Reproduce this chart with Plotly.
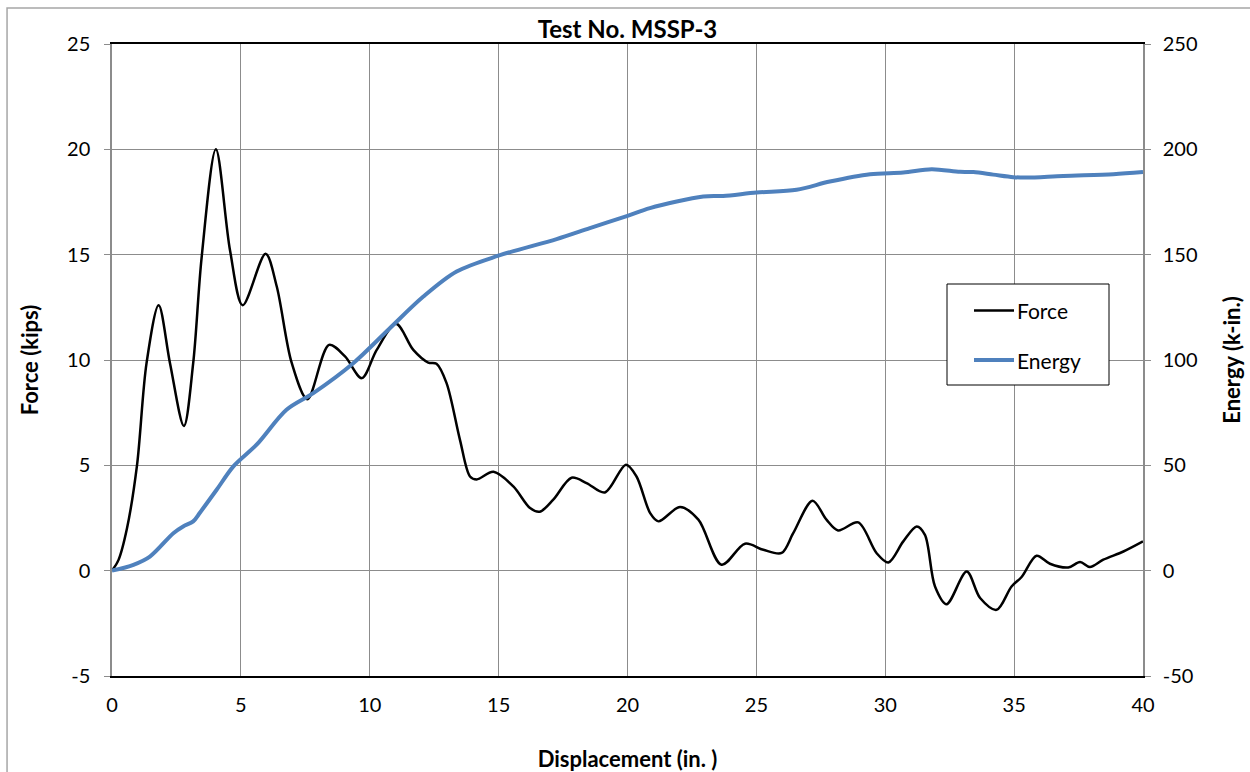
import plotly.graph_objects as go

# Displacement (in.) vs. force (kips) samples
force_disp = [0, 0.25, 0.58, 0.97, 1.34, 1.81, 2.25, 2.79, 3.15, 3.48, 4.03, 4.58, 5.07, 5.96, 6.39,
              6.97, 7.58, 8.42, 9.04, 9.69, 10.27, 11.02, 11.69, 12.27, 12.59, 12.98, 13.5,
              13.89, 14.15, 14.8, 15.57, 16.22, 16.6, 17.12, 17.83, 18.41, 19.12, 19.94, 20.35,
              20.88, 21.2, 22.04, 22.75, 23.65, 24.56, 25.27, 25.98, 26.43, 27.18, 27.72, 28.17,
              28.95, 29.66, 30.12, 30.7, 31.22, 31.54, 31.93, 32.38, 33.16, 33.68, 34.32, 34.9,
              35.29, 35.87, 36.39, 37.1, 37.56, 37.94, 38.46, 39.24, 40.0]
force_kips = [0, 0.5, 2.0, 5.0, 9.85, 12.6, 9.85, 6.87, 9.85, 14.9, 20.0, 15.2, 12.6, 15.04, 13.5,
              9.87, 8.14, 10.72, 10.17, 9.14, 10.48, 11.72, 10.48, 9.88, 9.82, 8.9, 6.21,
              4.47, 4.33, 4.69, 4.0, 2.97, 2.8, 3.37, 4.41, 4.16, 3.71, 5.03, 4.47,
              2.73, 2.34, 3.02, 2.42, 0.28, 1.28, 0.99, 0.84, 1.78, 3.32, 2.42, 1.91,
              2.29, 0.84, 0.39, 1.39, 2.1, 1.7, -0.75, -1.59, -0.04, -1.3, -1.86, -0.75,
              -0.3, 0.71, 0.33, 0.15, 0.41, 0.17, 0.52, 0.91, 1.39]

# Displacement (in.) vs. absorbed energy (k-in.) samples
energy_disp = [0, 0.83, 1.47, 2.38, 2.76, 3.15, 3.41, 4.06, 4.71, 5.61, 6.77, 7.81, 9.36, 10.78,
               12.08, 13.37, 14.99, 17.25, 18.54, 20.0, 20.87, 22.94, 23.71, 25.01, 26.56,
               27.85, 29.41, 30.7, 31.8, 32.9, 33.42, 34.19, 34.97, 35.49, 36.91, 38.85, 40.0]
energy_kin = [0, 2.8, 6.7, 17.8, 21.0, 23.4, 27.5, 38.4, 49.5, 59.8, 76.4, 84.3, 98.5, 115.1,
              130.1, 142.0, 149.5, 157.4, 162.6, 168.4, 172.1, 177.6, 177.9, 179.5, 180.8,
              184.7, 188.2, 189.0, 190.6, 189.3, 189.2, 188.0, 186.8, 186.6, 187.4, 188.2, 189.2]

x_ticks = [0, 5, 10, 15, 20, 25, 30, 35, 40]
force_ticks = [-5, 0, 5, 10, 15, 20, 25]
energy_ticks = [-50, 0, 50, 100, 150, 200, 250]
series_names = ["Force", "Energy"]
series_colors = ["black", "#4f81bd"]
series_widths = [2.5, 4]

FONT = "Lato"
GRID = "#8c8c8c"

fig = go.Figure()
fig.add_trace(go.Scatter(
    x=force_disp, y=force_kips, name=series_names[0], mode="lines",
    line=dict(color=series_colors[0], width=series_widths[0], shape="spline", smoothing=0.9),
    yaxis="y", showlegend=False))
fig.add_trace(go.Scatter(
    x=energy_disp, y=energy_kin, name=series_names[1], mode="lines",
    line=dict(color=series_colors[1], width=series_widths[1], shape="spline", smoothing=0.9),
    yaxis="y2", showlegend=False))


def tick_text(vals):
    # plain hyphen for negatives
    return [str(v) for v in vals]


fig.update_layout(
    width=1250, height=772,
    margin=dict(l=112, r=107, t=44, b=96),
    paper_bgcolor="white", plot_bgcolor="white",
    font=dict(family=FONT, size=20, color="black"),
    title=dict(text="<b>Test No. MSSP-3</b>", x=0.5, xref="paper", xanchor="center",
               y=0.9617, yref="container", yanchor="middle",
               font=dict(family=FONT, size=24, color="black")),
    xaxis=dict(range=[0, 40], tickvals=x_ticks, ticktext=tick_text(x_ticks),
               showgrid=True, gridcolor=GRID, gridwidth=1, automargin=False,
               showline=True, linecolor="black", linewidth=1.5, mirror=True,
               ticks="", zeroline=False, tickfont=dict(size=20), ticklabelstandoff=10,
               title=dict(text="<b>Displacement (in. )</b>", font=dict(size=22), standoff=38)),
    yaxis=dict(range=[-5, 25], tickvals=force_ticks, ticktext=tick_text(force_ticks),
               showgrid=True, gridcolor=GRID, gridwidth=1, automargin=False,
               showline=True, linecolor=GRID, linewidth=1.5, ticks="outside", ticklen=6,
               tickcolor=GRID, zeroline=False, tickfont=dict(size=20), ticklabelstandoff=10,
               title=dict(text="<b>Force (kips)</b>", font=dict(size=22), standoff=22)),
    yaxis2=dict(range=[-50, 250], tickvals=energy_ticks, ticktext=tick_text(energy_ticks),
                overlaying="y", side="right", automargin=False,
                showgrid=False, showline=True, linecolor=GRID, linewidth=1.5,
                ticks="outside", ticklen=6, tickcolor=GRID, zeroline=False,
                tickfont=dict(size=20), ticklabelstandoff=8,
                title=dict(text="<b>Energy (k-in.)</b>", font=dict(size=22), standoff=28)),
    showlegend=False,
)


def px_x(p):
    return (p - 112) / 1031


def px_y(p):
    return (676 - p) / 632


# legend box drawn with shapes and text
fig.add_shape(type="rect", xref="paper", yref="paper",
              x0=px_x(947), x1=px_x(1109), y0=px_y(385), y1=px_y(284),
              line=dict(color="black", width=1), fillcolor="white", layer="above")
for i, (name, col, w) in enumerate(zip(series_names, series_colors, series_widths)):
    yy = px_y(310.5 + 49.5 * i)
    fig.add_shape(type="line", xref="paper", yref="paper",
                  x0=px_x(974), x1=px_x(1014), y0=yy, y1=yy,
                  line=dict(color=col, width=w if i else 2.5), layer="above")
    fig.add_annotation(x=px_x(1015), y=yy, xref="paper", yref="paper", text=name,
                       showarrow=False, xanchor="left", yanchor="middle",
                       font=dict(family=FONT, size=21, color="black"))

# chart frame around the whole figure
fig.add_shape(type="rect", xref="paper", yref="paper",
              x0=-0.1018, y0=-0.3, x1=1.3, y1=1.057,
              line=dict(color="#a6a6a6", width=1.5), fillcolor="rgba(0,0,0,0)", layer="below")

fig.write_html("out.html")
